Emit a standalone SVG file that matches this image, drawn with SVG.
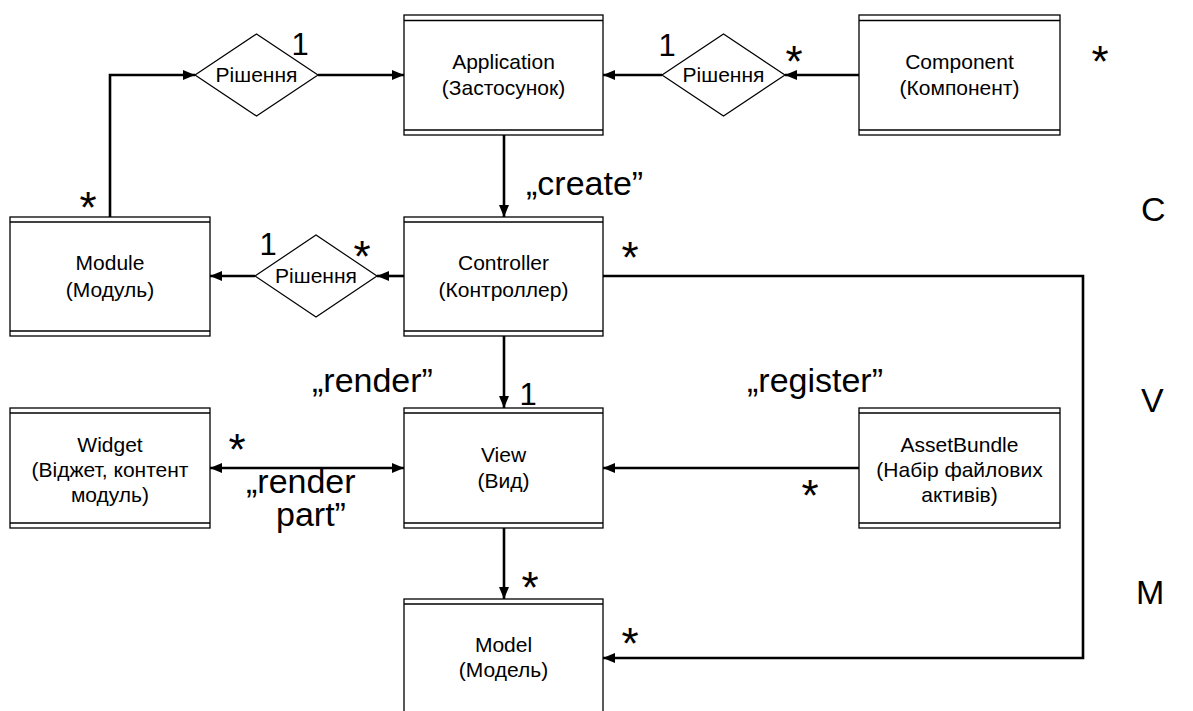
<svg xmlns="http://www.w3.org/2000/svg" width="1193" height="711" viewBox="0 0 1193 711">
<style>
.box{fill:#fff;stroke:#000;stroke-width:1.3}
.dl{stroke:#000;stroke-width:1.5}
.dia{fill:#fff;stroke:#000;stroke-width:1.2}
.t{font-family:"Liberation Sans",Arial,sans-serif;font-size:21px;text-anchor:middle;fill:#000}
.lbl{font-family:"Liberation Sans",Arial,sans-serif;font-size:34px;fill:#000}
.one{font-family:"Liberation Sans",Arial,sans-serif;font-size:31px;text-anchor:middle;fill:#000}
.ast{font-family:"Liberation Sans",Arial,sans-serif;font-size:44px;text-anchor:middle;fill:#000}
.c{fill:none;stroke:#000;stroke-width:2.6}
</style>
<defs>
<marker id="ah" markerUnits="userSpaceOnUse" markerWidth="12" markerHeight="10" refX="12" refY="5" orient="auto-start-reverse">
<path d="M0,0 L12,5 L0,10 z" fill="#000"/>
</marker>
</defs>
<rect width="1193" height="711" fill="#fff"/>
<g id="connectors">
<path class="c" d="M110,217 V75 H195" marker-end="url(#ah)"/>
<path class="c" d="M318,75 H404" marker-end="url(#ah)"/>
<path class="c" d="M859,75 H785" marker-end="url(#ah)"/>
<path class="c" d="M662,75 H603" marker-end="url(#ah)"/>
<path class="c" d="M504,135 V217" marker-end="url(#ah)"/>
<path class="c" d="M404,276 H377" marker-end="url(#ah)"/>
<path class="c" d="M255,276 H210" marker-end="url(#ah)"/>
<path class="c" d="M504,336 V408" marker-end="url(#ah)"/>
<path class="c" d="M603,276 H1083 V658 H603" marker-end="url(#ah)"/>
<path class="c" d="M210,468 H404" marker-start="url(#ah)" marker-end="url(#ah)"/>
<path class="c" d="M859,468 H603" marker-end="url(#ah)"/>
<path class="c" d="M504,528 V599" marker-end="url(#ah)"/>
</g>
<g id="application">
<rect class="box" x="404" y="15" width="199" height="120"/>
<line class="dl" x1="404" y1="20.5" x2="603" y2="20.5"/>
<line class="dl" x1="404" y1="130" x2="603" y2="130"/>
<text class="t" x="503.5" y="69">Application</text>
<text class="t" x="503.5" y="95">(Застосунок)</text>
</g>
<g id="component">
<rect class="box" x="859" y="15" width="201" height="120"/>
<line class="dl" x1="859" y1="20.5" x2="1060" y2="20.5"/>
<line class="dl" x1="859" y1="130" x2="1060" y2="130"/>
<text class="t" x="959.5" y="69">Component</text>
<text class="t" x="959.5" y="95">(Компонент)</text>
</g>
<g id="module">
<rect class="box" x="10" y="217" width="200" height="119"/>
<line class="dl" x1="10" y1="222" x2="210" y2="222"/>
<line class="dl" x1="10" y1="331" x2="210" y2="331"/>
<text class="t" x="110" y="270">Module</text>
<text class="t" x="110" y="297">(Модуль)</text>
</g>
<g id="controller">
<rect class="box" x="404" y="217" width="199" height="119"/>
<line class="dl" x1="404" y1="222" x2="603" y2="222"/>
<line class="dl" x1="404" y1="331" x2="603" y2="331"/>
<text class="t" x="503.5" y="270">Controller</text>
<text class="t" x="503.5" y="297">(Контроллер)</text>
</g>
<g id="widget">
<rect class="box" x="10" y="408" width="200" height="120"/>
<line class="dl" x1="10" y1="413" x2="210" y2="413"/>
<line class="dl" x1="10" y1="523" x2="210" y2="523"/>
<text class="t" x="110" y="452">Widget</text>
<text class="t" x="110" y="477">(Віджет, контент</text>
<text class="t" x="110" y="502">модуль)</text>
</g>
<g id="view">
<rect class="box" x="404" y="408" width="199" height="120"/>
<line class="dl" x1="404" y1="413" x2="603" y2="413"/>
<line class="dl" x1="404" y1="523" x2="603" y2="523"/>
<text class="t" x="503.5" y="462">View</text>
<text class="t" x="503.5" y="488">(Вид)</text>
</g>
<g id="assetbundle">
<rect class="box" x="859" y="408" width="201" height="120"/>
<line class="dl" x1="859" y1="413" x2="1060" y2="413"/>
<line class="dl" x1="859" y1="523" x2="1060" y2="523"/>
<text class="t" x="959.5" y="452">AssetBundle</text>
<text class="t" x="959.5" y="477">(Набір файлових</text>
<text class="t" x="959.5" y="502">активів)</text>
</g>
<g id="model">
<rect class="box" x="404" y="599" width="199" height="120"/>
<line class="dl" x1="404" y1="604" x2="603" y2="604"/>
<text class="t" x="503.5" y="652">Model</text>
<text class="t" x="503.5" y="677">(Модель)</text>
</g>
<g id="decision1">
<polygon class="dia" points="195,75 256.5,34 318,75 256.5,116"/>
<text class="t" x="256.5" y="82">Рішення</text>
</g>
<g id="decision2">
<polygon class="dia" points="662,75 723.5,34 785,75 723.5,116"/>
<text class="t" x="723.5" y="82">Рішення</text>
</g>
<g id="decision3">
<polygon class="dia" points="255,276 316,235 377,276 316,317"/>
<text class="t" x="316" y="283">Рішення</text>
</g>
<g id="labels">
<text class="one" x="300" y="55">1</text>
<text class="one" x="667" y="56">1</text>
<text class="ast" x="794" y="77">*</text>
<text class="ast" x="1100" y="77">*</text>
<text class="ast" x="88" y="223">*</text>
<text class="one" x="268" y="255">1</text>
<text class="ast" x="362" y="272">*</text>
<text class="ast" x="630" y="273">*</text>
<text class="lbl" x="526" y="195">„create”</text>
<text class="lbl" x="312" y="392">„render”</text>
<text class="one" x="528" y="405">1</text>
<text class="lbl" x="747" y="392">„register”</text>
<text class="ast" x="237" y="465">*</text>
<text class="lbl" x="246" y="493">„render</text>
<text class="lbl" x="276" y="526">part”</text>
<text class="ast" x="810" y="511">*</text>
<text class="ast" x="530" y="603">*</text>
<text class="ast" x="630" y="659">*</text>
<text class="lbl" x="1141" y="221">C</text>
<text class="lbl" x="1141" y="412">V</text>
<text class="lbl" x="1136" y="604">M</text>
</g>
</svg>
